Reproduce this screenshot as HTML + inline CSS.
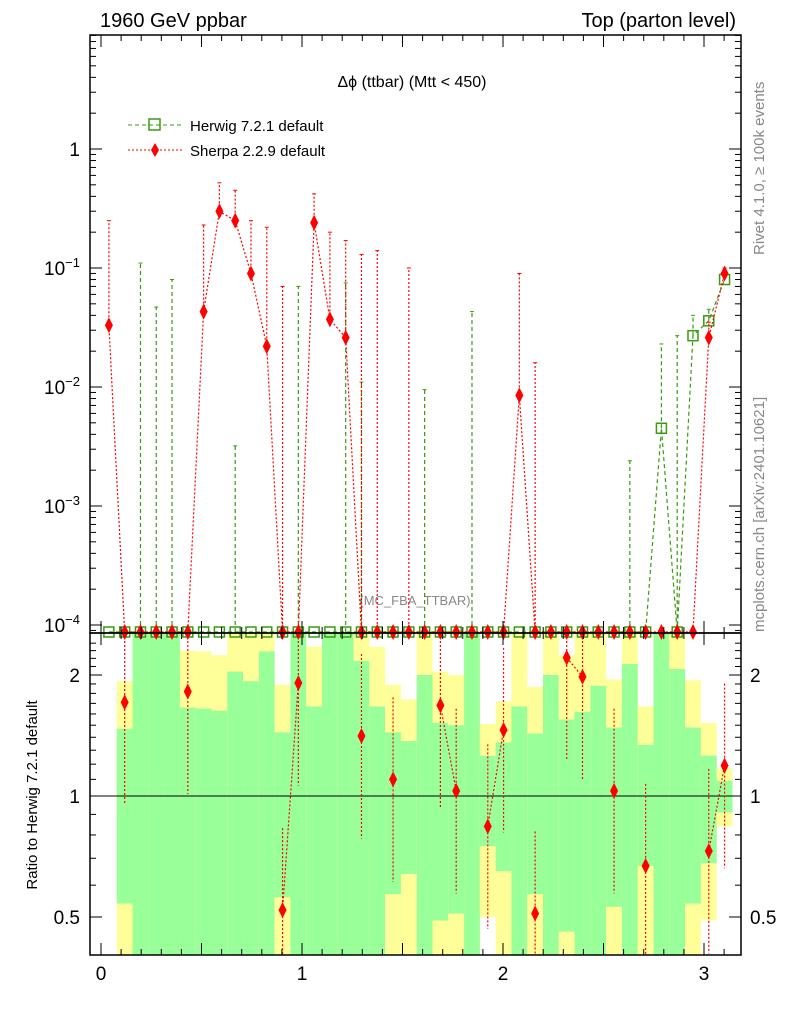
<!DOCTYPE html>
<html><head><meta charset="utf-8"><style>
html,body{margin:0;padding:0;background:#fff}
svg{display:block;font-family:"Liberation Sans",sans-serif}
</style></head><body>
<svg id="c" width="786" height="1024" viewBox="0 0 786 1024" xmlns="http://www.w3.org/2000/svg">
<text x="100" y="27" font-size="20">1960 GeV ppbar</text>
<text x="736" y="27" font-size="20" text-anchor="end">Top (parton level)</text>
<text x="412" y="87" font-size="16" text-anchor="middle">Δϕ (ttbar) (Mtt &lt; 450)</text>
<text x="415" y="605" font-size="13" fill="#888" text-anchor="middle">(MC_FBA_TTBAR)</text>
<text transform="translate(764,255) rotate(-90)" font-size="15" fill="#888">Rivet 4.1.0, ≥ 100k events</text>
<text transform="translate(764,632) rotate(-90)" font-size="15" fill="#888">mcplots.cern.ch [arXiv:2401.10621]</text>
<text transform="translate(37,795) rotate(-90)" font-size="15" text-anchor="middle">Ratio to Herwig 7.2.1 default</text>
<g id="bands"></g><g id="main"></g><g id="ratio"></g><g id="axes"></g>
<g>
<line x1="128" y1="125" x2="182" y2="125" stroke="#3a9a10" stroke-dasharray="4,3"/>
<rect x="149" y="119" width="11" height="11" fill="none" stroke="#3a9a10" stroke-width="1.5"/>
<text x="190" y="131" font-size="15">Herwig 7.2.1 default</text>
<line x1="128" y1="150" x2="182" y2="150" stroke="red" stroke-dasharray="2,2"/>
<path d="M155,143 L159,150 L155,157 L151,150Z" fill="red"/>
<text x="190" y="156" font-size="15">Sherpa 2.2.9 default</text>
</g>
</svg>
<script>
const herwig=[0,0,0,0,0,0,0,0,0,0,0,0,0,0,0,0,0,0,0,0,0,0,0,0,0,0,0,0,0,0,0,0,0,0,0,0.0045,0,0.027,0.036,0.08];
const herwigUp=[0,0,0.11,0.047,0.08,0,0,0,0.0032,0,0,0,0.07,0,0,0.075,0.011,0,0,0,0.0095,0,0,0.043,0,0,0,0,0,0,0,0,0,0.0024,0,0.023,0.027,0.04,0.045,0.09];
const sherpa=[0.033,0,0,0,0,0,0.043,0.3,0.25,0.09,0.022,0,0,0.24,0.037,0.026,0,0,0,0,0,0,0,0,0,0,0.0085,0,0,0,0,0,0,0,0,0,0,0,0.026,0.09];
const sherpaUp=[0.25,0,0,0,0,0,0.23,0.52,0.45,0.25,0.22,0.07,0,0.42,0.2,0.17,0.13,0.14,0,0.1,0,0,0,0,0,0,0.09,0.016,0,0,0,0,0,0,0,0,0,0,0.035,0.1];
const ratio=[null,1.71,null,null,null,1.82,null,null,null,null,null,0.52,1.91,null,null,null,1.41,null,1.10,null,null,1.68,1.03,null,0.84,1.46,null,0.51,null,2.21,1.98,null,1.03,null,0.67,null,null,null,0.73,1.19];
const yHi=[null,1.93,3,3,3,2.3,2.29,2.24,3,3,3,1.89,3,2.35,3,3,3,2.35,1.89,1.74,3,2.04,2.0,3,1.51,1.72,3,1.87,3,2.24,3,3,1.95,3,1.67,3,3,1.94,1.52,1.17];
const gHi=[null,1.47,3,3,3,1.66,1.65,1.63,2.04,1.93,2.29,1.44,3,1.67,3,3,2.17,1.67,1.44,1.37,2.0,1.52,1.5,3,1.26,1.36,1.67,1.43,2.0,1.55,1.62,1.88,1.48,2.13,1.34,3,2.07,1.48,1.26,1.09];
const gLo=[null,0.54,0.3,0.3,0.3,0.3,0.3,0.3,0.3,0.3,0.3,0.56,0.3,0.3,0.3,0.3,0.3,0.3,0.57,0.64,0.3,0.49,0.51,0.3,0.75,0.65,0.3,0.57,0.3,0.46,0.3,0.3,0.53,0.3,0.67,0.3,0.3,0.54,0.68,0.91];
const yLo=[null,0.3,0.3,0.3,0.3,0.3,0.3,0.3,0.3,0.3,0.3,0.3,0.3,0.3,0.3,0.3,0.3,0.3,0.3,0.3,0.3,0.3,0.3,0.3,0.5,0.3,0.3,0.3,0.3,0.3,0.3,0.3,0.3,0.3,0.3,0.3,0.3,0.3,0.49,0.84];
const xTicks=[0,1,2,3];
const yTickExp=[0,-1,-2,-3,-4];
const rTicks=[2,1,0.5];

const NS='http://www.w3.org/2000/svg';
const N=40, W=Math.PI/N;
const L=90,R=741,T=35,MB=633,RB=955;
const X=v=>101+v*201;
const Y=v=>625-(Math.log10(v)+4)*119;
const RY=v=>Math.max(RT(),Math.min(RB,796-Math.log2(v)*121));
function RT(){return MB;}
function el(p,t,a){const e=document.createElementNS(NS,t);for(const k in a)e.setAttribute(k,a[k]);p.appendChild(e);return e;}
const svg=document.getElementById('c');
const bands=document.getElementById('bands'),main=document.getElementById('main'),rat=document.getElementById('ratio'),ax=document.getElementById('axes');
const FL=632;
// bands
for(let i=0;i<N;i++){if(yHi[i]==null)continue;const x0=X(i*W),x1=X((i+1)*W);
 const a=el(bands,'rect',{x:x0,y:RY(yHi[i]),width:x1-x0,height:RY(yLo[i])-RY(yHi[i]),fill:'#ffff99'});
 
 
 const b=el(bands,'rect',{x:x0,y:RY(gHi[i]),width:x1-x0,height:RY(gLo[i])-RY(gHi[i]),fill:'#99ff99'});
 
 }
el(bands,'line',{x1:L,x2:R,y1:796,y2:796,stroke:'#000','stroke-width':1});
// main series
function my(v){return v>0?Y(v):FL;}
function series(vals,ups,col,dash,kind){
 let d='';for(let i=0;i<N;i++){d+=(i?'L':'M')+X((i+.5)*W)+','+my(vals[i]);}
 const p=el(main,'path',{d:d,fill:'none',stroke:col,'stroke-dasharray':dash,'stroke-width':1.2});
 
 
 for(let i=0;i<N;i++){const cx=X((i+.5)*W);
  if(ups[i]>0){const e=el(main,'line',{x1:cx,x2:cx,y1:my(vals[i]),y2:Y(ups[i]),stroke:col,'stroke-dasharray':dash,'stroke-width':1.2});
   
   
   el(main,'line',{x1:cx-2,x2:cx+2,y1:Y(ups[i]),y2:Y(ups[i]),stroke:col,'stroke-width':1});}
  const cy=my(vals[i]);let m;
  if(kind=='herwig')m=el(main,'rect',{x:cx-5,y:cy-5,width:10,height:10,fill:'none',stroke:col,'stroke-width':1.5});
  else m=el(main,'path',{d:`M${cx},${cy-8}L${cx+4},${cy}L${cx},${cy+8}L${cx-4},${cy}Z`,fill:col});
  
  }
}
series(herwig,herwigUp,'#3a9a10','4,3','herwig');
series(sherpa,sherpaUp,'red','2,2','sherpa');
// ratio
let prev=null;
for(let i=0;i<N;i++){if(ratio[i]==null){prev=null;continue;}const cx=X((i+.5)*W),cy=RY(ratio[i]);
 if(prev){el(rat,'line',{x1:prev[0],y1:prev[1],x2:cx,y2:cy,stroke:'red','stroke-dasharray':'2,2','stroke-width':1.2});}
 const e=el(rat,'line',{x1:cx,x2:cx,y1:RY(ratio[i]*1.6),y2:RY(ratio[i]/1.8),stroke:'red','stroke-dasharray':'2,2','stroke-width':1.2});
 
 
 const m=el(rat,'path',{d:`M${cx},${cy-8}L${cx+4},${cy}L${cx},${cy+8}L${cx-4},${cy}Z`,fill:'red'});
 
 
 prev=[cx,cy];}
// frames
const f1=el(ax,'rect',{x:L,y:T,width:R-L,height:MB-T,fill:'none',stroke:'#000','stroke-width':1.5});


const f2=el(ax,'rect',{x:L,y:MB,width:R-L,height:RB-MB,fill:'none',stroke:'#000','stroke-width':1.5});


// x ticks
for(let k=0;k<=31;k++){const v=k/10,x=X(v);if(x>R)break;const len=k%5==0?12:6;
 for(const yb of [MB,RB]){el(ax,'line',{x1:x,x2:x,y1:yb,y2:yb-len,stroke:'#000'});}
 for(const yt of [T,MB]){el(ax,'line',{x1:x,x2:x,y1:yt,y2:yt+len,stroke:'#000'});}}
xTicks.forEach(v=>{const t=el(ax,'text',{x:X(v),y:980,'font-size':19,'text-anchor':'middle'});t.textContent=v;
 
 });
// y ticks main
for(let e=-5;e<=1;e++)for(let m=1;m<10;m++){const v=m*Math.pow(10,e),y=Y(v);if(y<T||y>MB)continue;const len=m==1?12:6;
 el(ax,'line',{x1:L,x2:L+len,y1:y,y2:y,stroke:'#000'});el(ax,'line',{x1:R,x2:R-len,y1:y,y2:y,stroke:'#000'});}
yTickExp.forEach(e=>{const t=el(ax,'text',{x:80,y:Y(Math.pow(10,e))+7,'font-size':19,'text-anchor':'end'});
 if(e==0)t.textContent='1';else{t.textContent='10';const s=el(t,'tspan',{dy:-8,'font-size':13});s.textContent='−'+(-e);}
 
 });
// ratio ticks
for(let v=0.4;v<=2.5;v+=0.1){const y=RY(v);if(y<=MB+1||y>=RB)continue;const big=[0.5,1,2].some(q=>Math.abs(q-v)<1e-6);const len=big?12:6;
 el(ax,'line',{x1:L,x2:L+len,y1:y,y2:y,stroke:'#000'});el(ax,'line',{x1:R,x2:R-len,y1:y,y2:y,stroke:'#000'});}
rTicks.forEach(v=>{for(const [xx,an] of [[80,'end'],[750,'start']]){const t=el(ax,'text',{x:xx,y:RY(v)+7,'font-size':19,'text-anchor':an});t.textContent=v;
 
 }});
</script>
</body></html>
